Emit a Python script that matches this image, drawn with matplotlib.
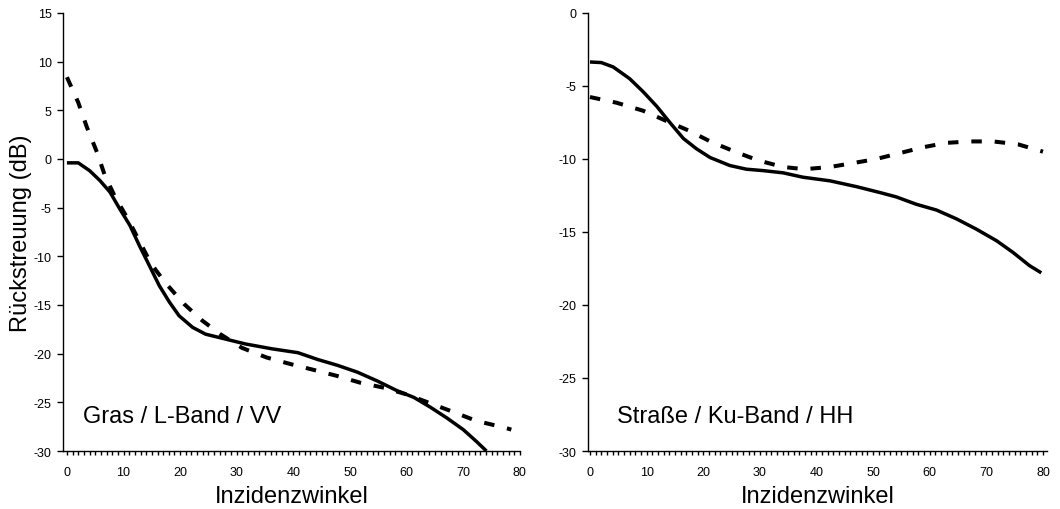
import numpy as np
import matplotlib
matplotlib.use("Agg")
import matplotlib.pyplot as plt
from matplotlib.ticker import MultipleLocator

plt.rcParams['font.family'] = ['Liberation Sans', 'DejaVu Sans']
plt.rcParams['axes.unicode_minus'] = False

# Gras / L-Band / VV
gras_x_mess = [0, 2, 4, 5.8, 7.6, 9.3, 11.1, 12.8, 14.6, 16.3, 18.1, 19.8, 22.2, 24.5, 28, 31.5,
               36.2, 40.8, 44.3, 47.8, 51.3, 54.8, 58.3, 61.3, 64.2, 67.1, 70, 72.3, 74.1]
gras_y_mess = [-0.4, -0.4, -1.2, -2.2, -3.4, -5.1, -6.8, -8.9, -11.0, -13.0, -14.7, -16.1, -17.3, -18.0,
               -18.5, -19.0, -19.5, -19.9, -20.6, -21.2, -21.9, -22.8, -23.8, -24.5, -25.5, -26.6,
               -27.8, -29.0, -30.0]
gras_x_mod = [0, 2, 3.5, 5.3, 6.7, 8.5, 10.8, 14.9, 17.5, 20.7, 23.9, 27.1, 30.9, 35.3, 39.7, 43.8,
              47.8, 51.9, 56, 60.1, 64.2, 68.3, 72.3, 77.3, 78.5]
gras_y_mod = [8.4, 5.8, 3.3, 0.7, -1.7, -3.9, -6.2, -10.8, -12.8, -14.9, -16.6, -18.0, -19.4, -20.4,
              -21.1, -21.7, -22.3, -23.0, -23.5, -24.2, -25.1, -26.0, -26.9, -27.6, -27.8]

# Strasse / Ku-Band / HH
str_x_mess = [0, 2, 4.1, 7, 9.4, 11.8, 14.1, 16.5, 18.8, 21.2, 24.7, 27.6, 30.6, 34.1, 37.6, 42.4,
              47.1, 51.2, 54.1, 57.6, 61.2, 64.7, 68.2, 71.8, 74.7, 77.6, 79.7]
str_y_mess = [-3.36, -3.4, -3.7, -4.5, -5.4, -6.4, -7.5, -8.6, -9.3, -9.9, -10.45, -10.7, -10.8,
              -10.95, -11.25, -11.5, -11.9, -12.3, -12.6, -13.1, -13.5, -14.1, -14.8, -15.6, -16.4,
              -17.3, -17.8]
str_x_mod = [0, 4.7, 9.4, 13.5, 17.4, 21.5, 25.6, 29.7, 34.1, 37.9, 42.4, 46.2, 50.6, 54.7, 58.8,
             62.9, 67.1, 71.2, 75.6, 80]
str_y_mod = [-5.76, -6.15, -6.7, -7.4, -8.05, -8.85, -9.5, -10.1, -10.55, -10.7, -10.55, -10.3, -10.0,
             -9.6, -9.2, -8.9, -8.8, -8.8, -9.0, -9.5]

fig = plt.figure(figsize=(10.6, 5.1), dpi=100)
ax1 = fig.add_axes([0.0594, 0.1137, 0.431, 0.859])
ax2 = fig.add_axes([0.5547, 0.1137, 0.433, 0.859])

panels = [
    (ax1, gras_x_mess, gras_y_mess, gras_x_mod, gras_y_mod, (-30, 15), (-0.7, 80), "Gras / L-Band / VV", 0.044),
    (ax2, str_x_mess, str_y_mess, str_x_mod, str_y_mod, (-30, 0), (-0.35, 80.7), "Straße / Ku-Band / HH", 0.063),
]

for ax, xm, ym, xd, yd, ylim, xlim, txt, tx in panels:
    ax.plot(xm, ym, color='black', lw=2.5, solid_capstyle='butt')
    ax.plot(xd, yd, color='black', lw=2.9, linestyle=(0, (2.6, 3.2)), dash_capstyle='butt')
    ax.set_ylim(*ylim)
    ax.set_xlim(*xlim)
    ax.yaxis.set_major_locator(MultipleLocator(5))
    ax.xaxis.set_major_locator(MultipleLocator(10))
    ax.xaxis.set_minor_locator(MultipleLocator(1))
    for s in ['top', 'right']:
        ax.spines[s].set_visible(False)
    for s in ['left', 'bottom']:
        ax.spines[s].set_linewidth(1.0)
    ax.tick_params(axis='both', which='major', direction='out', length=4, width=1,
                   labelsize=9, pad=4)
    ax.tick_params(axis='x', which='major', length=3, pad=8)
    ax.tick_params(axis='x', which='minor', direction='out', length=3, width=1)
    ax.set_xlabel("Inzidenzwinkel", fontsize=17, labelpad=4.5)
    ax.text(tx, 0.08, txt, transform=ax.transAxes, fontsize=17, va='center', ha='left')

ax1.set_ylabel("Rückstreuung (dB)", fontsize=17, labelpad=1)

fig.savefig("out.png", dpi=100)
